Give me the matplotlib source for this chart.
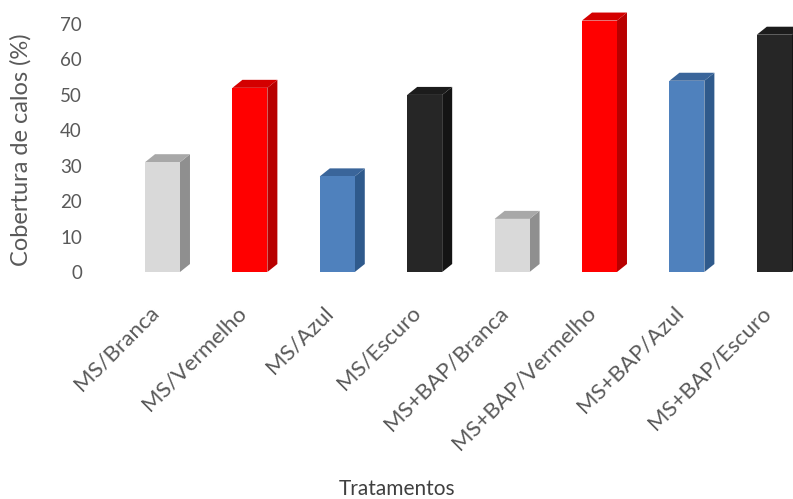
import numpy as np
import matplotlib

matplotlib.use("Agg")
import matplotlib.pyplot as plt
import matplotlib.transforms as mtransforms
from matplotlib.patches import Polygon

plt.rcParams["font.family"] = ["Lato", "DejaVu Sans"]

# data
tratamentos = [
    "MS/Branca", "MS/Vermelho", "MS/Azul", "MS/Escuro",
    "MS+BAP/Branca", "MS+BAP/Vermelho", "MS+BAP/Azul", "MS+BAP/Escuro",
]
cobertura = [31, 52, 27, 50, 15, 71, 54, 67]

# front / side / top colours per light
front = ["#d9d9d9", "#ff0000", "#4f81bd", "#262626"] * 2
side = ["#8f8f8f", "#b80000", "#2f5a8c", "#141414"] * 2
top = ["#a8a8a8", "#d40000", "#3a659a", "#1c1c1c"] * 2

W, H = 793, 499
fig = plt.figure(figsize=(W / 100, H / 100), dpi=100)

# axes in pixel terms
ax_l, ax_r = 100, 793
ax_b, ax_t = 272, 17
ax = fig.add_axes([ax_l / W, 1 - ax_b / H, (ax_r - ax_l) / W, (ax_b - ax_t) / H])

step_px = 87.4
x0 = (ax_l - 162.5) / step_px
x1 = (ax_r - 162.5) / step_px
ymax = 72
ax.set_xlim(x0, x1)
ax.set_ylim(0, ymax)

# pixel -> data conversions for the fake depth
px_x = (x1 - x0) / (ax_r - ax_l)
px_y = ymax / (ax_b - ax_t)
dx, dy = 10 * px_x, 8 * px_y
bw = 0.4

x = np.arange(len(tratamentos))
ax.bar(x, cobertura, width=bw, color=front, zorder=3, clip_on=False)

for xi, v, cs, ct in zip(x, cobertura, side, top):
    l, r = xi - bw / 2, xi + bw / 2
    # right side face
    ax.add_patch(Polygon([(r, 0), (r + dx, dy), (r + dx, v + dy), (r, v)],
                         closed=True, fc=cs, ec="none", zorder=2, clip_on=False))
    # top face
    ax.add_patch(Polygon([(l, v), (l + dx, v + dy), (r + dx, v + dy), (r, v)],
                         closed=True, fc=ct, ec="none", zorder=2, clip_on=False))

ax.set_yticks(range(0, 71, 10))
ax.set_xticks(x)
ax.set_xticklabels(tratamentos, rotation=45, ha="right", rotation_mode="anchor",
                   fontsize=16, color="#595959")
ax.tick_params(axis="x", length=0, pad=22)
ax.tick_params(axis="y", length=0, pad=13, labelsize=13.5, labelcolor="#595959")
shift = mtransforms.ScaledTranslation(-14 / 100, 0, fig.dpi_scale_trans)
for lab in ax.get_xticklabels():
    lab.set_transform(lab.get_transform() + shift)
for s in ax.spines.values():
    s.set_visible(False)

ax.set_ylabel("Cobertura de calos (%)", fontsize=17, color="#595959")
ax.yaxis.set_label_coords((32 - ax_l) / (ax_r - ax_l), (ax_b - 150) / (ax_b - ax_t))
fig.text(397 / W, 1 - 489 / H, "Tratamentos", ha="center", va="center",
         fontsize=15, color="#404040")

fig.savefig("out.png", dpi=100, facecolor="white")
